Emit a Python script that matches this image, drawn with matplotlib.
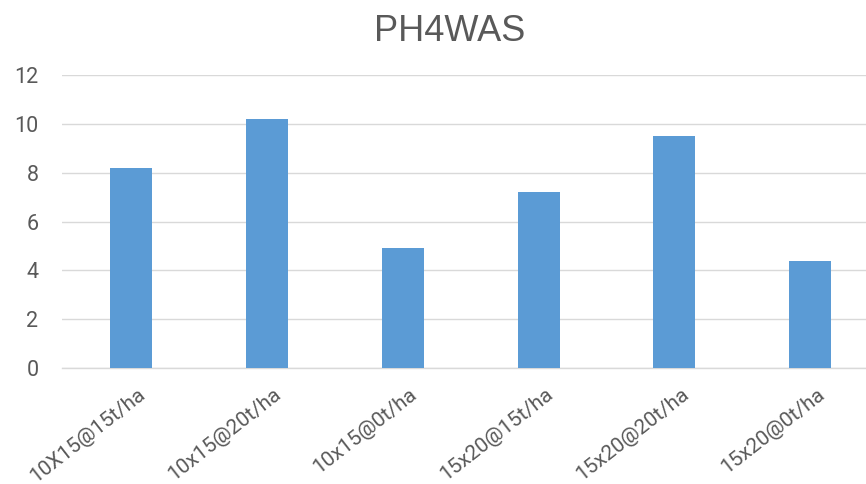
import matplotlib
matplotlib.use("Agg")
import matplotlib.pyplot as plt
import matplotlib.transforms as mtransforms

categories = ["10X15@15t/ha", "10x15@20t/ha", "10x15@0t/ha",
              "15x20@15t/ha", "15x20@20t/ha", "15x20@0t/ha"]
values = [8.2, 10.2, 4.9, 7.2, 9.5, 4.4]
y_ticks = [0, 2, 4, 6, 8, 10, 12]
title = "PH4WAS"

plt.rcParams['font.family'] = ['Roboto', 'DejaVu Sans']

fig = plt.figure(figsize=(8.66, 4.84), dpi=100)
ax = fig.add_axes([62/866, 1 - 368/484, 1 - 62/866, (368 - 75)/484])

x = list(range(len(categories)))
ax.bar(x, values, width=0.31, color="#5B9BD5", zorder=3)

ax.set_ylim(0, 12)
ax.set_xlim(-0.508, 5.41)
ax.set_yticks(y_ticks)
ax.set_yticklabels([str(t) for t in y_ticks])
ax.yaxis.grid(True, color="#d9d9d9", linewidth=1.0, zorder=0)
ax.set_axisbelow(True)

for s in ["top", "right", "left"]:
    ax.spines[s].set_visible(False)
ax.spines["bottom"].set_color("#d9d9d9")
ax.spines["bottom"].set_linewidth(1.0)

ax.tick_params(axis="y", length=0, pad=17, labelsize=15.5, labelcolor="#595959")
ax.tick_params(axis="x", length=0, pad=17, labelsize=15, labelcolor="#595959")

ax.set_xticks(x)
ax.set_xticklabels(categories, rotation=38, ha="right", va="center",
                   rotation_mode="anchor")
offset = mtransforms.ScaledTranslation(12/100, 0, fig.dpi_scale_trans)
for lab in ax.get_xticklabels():
    lab.set_transform(lab.get_transform() + offset)

fig.text(450/866, 1 - 41/484, title, ha="center", va="baseline",
         fontsize=26, color="#595959", family=["Liberation Sans", "DejaVu Sans"])

fig.savefig("out.png", dpi=100)
